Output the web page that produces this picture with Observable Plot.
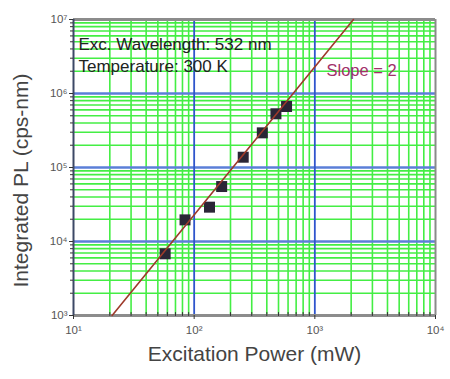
<!DOCTYPE html>
<html>
<head>
<meta charset="utf-8">
<script src="https://cdn.jsdelivr.net/npm/d3@7"></script>
<script src="https://cdn.jsdelivr.net/npm/@observablehq/plot@0.6"></script>
<style>
  html, body { margin: 0; padding: 0; background: #fff; }
  #chart svg { display: block; }
</style>
</head>
<body>
<div id="chart"></div>
<script>
// Measured PL intensity versus excitation power
const power = [57.5, 84, 134, 169, 255, 367, 476, 583];          // mW
const pl = [6820, 19600, 29100, 55300, 137700, 294000, 532000, 667000]; // cps-nm

// Slope-2 guide line end points
const fitPower = [20.9, 2090];
const fitPL = [1e3, 1e7];

// Axis decades and minor grid positions
const xDecades = [10, 100, 1000, 10000];
const yDecades = [1e3, 1e4, 1e5, 1e6, 1e7];
const xMinor = [20, 30, 40, 50, 60, 70, 80, 90, 200, 300, 400, 500, 600, 700, 800, 900, 2000, 3000, 4000, 5000, 6000, 7000, 8000, 9000];
const yMinor = [2e3, 3e3, 4e3, 5e3, 6e3, 7e3, 8e3, 9e3, 2e4, 3e4, 4e4, 5e4, 6e4, 7e4, 8e4, 9e4, 2e5, 3e5, 4e5, 5e5, 6e5, 7e5, 8e5, 9e5, 2e6, 3e6, 4e6, 5e6, 6e6, 7e6, 8e6, 9e6];
const xGridMajor = [100, 1000];
const yGridMajor = [1e4, 1e5, 1e6];

const notes = ["Exc. Wavelength: 532 nm", "Temperature: 300 K"];
const slopeLabel = "Slope = 2";
const xLabel = "Excitation Power (mW)";
const yLabel = "Integrated PL (cps-nm)";

const points = power.map((p, i) => ({power: p, pl: pl[i]}));
const fit = fitPower.map((p, i) => ({power: p, pl: fitPL[i]}));

const sup = {"0": "\u2070", "1": "\u00b9", "2": "\u00b2", "3": "\u00b3", "4": "\u2074", "5": "\u2075", "6": "\u2076", "7": "\u2077", "8": "\u2078", "9": "\u2079"};
const powerOfTen = d => "10" + String(Math.round(Math.log10(d))).split("").map(c => sup[c]).join("");

// short upward tick used for the minor marks on the bottom axis
const tickLine = {draw(ctx, l) { ctx.moveTo(0, 0); ctx.lineTo(0, -l); }};

const font = "'Liberation Sans', Arial, sans-serif";

const chart = Plot.plot({
  width: 450,
  height: 379,
  marginLeft: 73,
  marginRight: 15,
  marginTop: 19,
  marginBottom: 64,
  style: {fontFamily: font, background: "#fff", color: "#555"},
  x: {type: "log", domain: [10, 1e4]},
  y: {type: "log", domain: [1e3, 1e7]},
  marks: [
    // minor grid
    Plot.ruleX(xMinor, {stroke: "#44ee44", strokeWidth: 1.6}),
    Plot.ruleY(yMinor, {stroke: "#44ee44", strokeWidth: 1.6}),
    // decade grid
    Plot.ruleY(yGridMajor, {stroke: "#5b7fd8", strokeWidth: 2.5}),
    Plot.ruleX(xGridMajor, {stroke: "#2f55cc", strokeWidth: 1.8}),
    // frame
    Plot.ruleY([1e7], {stroke: "#8c8c8c", strokeWidth: 3}),
    Plot.ruleY([1e3], {stroke: "#8c8c8c", strokeWidth: 3}),
    Plot.ruleX([1e4], {stroke: "#8a8a8a", strokeWidth: 2}),
    Plot.ruleX([10], {stroke: "#3c4866", strokeWidth: 2}),
    // axes
    Plot.axisX({ticks: xDecades, tickSize: 4, tickPadding: 6, tickFormat: powerOfTen, fontSize: 11.5, stroke: "#333", label: null}),
    Plot.vector(xMinor, {x: d => d, y: 1e3, length: 3, rotate: 0, anchor: "start", shape: tickLine, stroke: "#333", strokeWidth: 1}),
    Plot.axisY({ticks: yDecades, tickSize: 4, tickPadding: 2, tickFormat: powerOfTen, fontSize: 11.5, stroke: "#333", label: null}),
    Plot.axisY({ticks: yMinor, tickSize: 3, tickFormat: () => "", stroke: "#333", label: null}),
    // data
    Plot.dot(points, {x: "power", y: "pl", symbol: "square", r: 6.2, fill: "#2b2636", stroke: "none"}),
    Plot.line(fit, {x: "power", y: "pl", stroke: "#9e3a2a", strokeWidth: 1.6}),
    // annotations
    Plot.text([notes[0]], {frameAnchor: "top-left", dx: 5, dy: 18, textAnchor: "start", fontSize: 17, fill: "#222"}),
    Plot.text([notes[1]], {frameAnchor: "top-left", dx: 5, dy: 40, textAnchor: "start", fontSize: 17, fill: "#222"}),
    Plot.text([slopeLabel], {x: 1250, y: 2.05e6, textAnchor: "start", fontSize: 16.5, fill: "#a2306a"}),
    Plot.text([xLabel], {frameAnchor: "bottom", textAnchor: "middle", dy: 45, fontSize: 21, fill: "#444"}),
    Plot.text([yLabel], {frameAnchor: "left", textAnchor: "middle", dx: -52, dy: 13, rotate: -90, fontSize: 21, fill: "#444"})
  ]
});

document.getElementById("chart").append(chart);
</script>
</body>
</html>
